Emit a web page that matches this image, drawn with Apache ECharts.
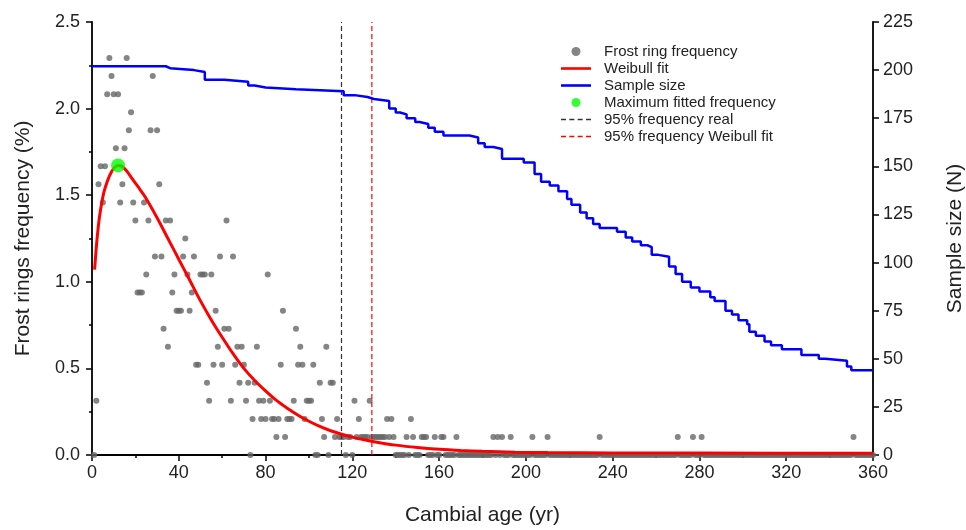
<!DOCTYPE html>
<html>
<head>
<meta charset="utf-8">
<script src="https://cdn.jsdelivr.net/npm/echarts@6/dist/echarts.min.js"></script>
<style>
html,body{margin:0;padding:0;background:#fff;overflow:hidden;}
#chart{width:966px;height:530px;}
</style>
</head>
<body>
<div id="chart"></div>
<script>
// ---- Data ----
const xTicks = [0, 40, 80, 120, 160, 200, 240, 280, 320, 360];
const leftTicks = [0.0, 0.5, 1.0, 1.5, 2.0, 2.5];
const rightTicks = [0, 25, 50, 75, 100, 125, 150, 175, 200, 225];

// Frost ring frequency (%) at cambial age (non-zero observations)
const frostPoints = [
  [8,2.292],[16,2.292],
  [9,2.188],[28,2.188],
  [7,2.083],[10,2.083],[12,2.083],
  [18,1.979],
  [17,1.875],[27,1.875],[30,1.875],
  [11,1.771],[15,1.771],
  [4,1.667],[6,1.667],
  [3,1.563],[14,1.563],[31,1.563],
  [5,1.458],[13,1.458],[19,1.458],[24,1.458],
  [20,1.354],[26,1.354],[34,1.354],[36,1.354],[62,1.354],
  [43,1.25],
  [29,1.146],[32,1.146],[42,1.146],[47,1.146],[59,1.146],[65,1.146],
  [25,1.042],[38,1.042],[44,1.042],[50,1.042],[51,1.042],[52,1.042],[55,1.042],[81,1.042],
  [21,0.938],[22,0.938],[23,0.938],[37,0.938],[46,0.938],
  [39,0.833],[40,0.833],[41,0.833],[45,0.833],[57,0.833],[88,0.833],
  [33,0.729],[61,0.729],[63,0.729],[94,0.729],
  [35,0.625],[58,0.625],[67,0.625],[69,0.625],[76,0.625],[96,0.625],[108,0.625],
  [48,0.521],[49,0.521],[56,0.521],[60,0.521],[66,0.521],[70,0.521],[87,0.521],[95,0.521],[97,0.521],[102,0.521],
  [53,0.417],[68,0.417],[72,0.417],[75,0.417],[105,0.417],[110,0.417],[111,0.417],
  [2,0.313],[54,0.313],[64,0.313],[71,0.313],[77,0.313],[79,0.313],[82,0.313],[93,0.313],[99,0.313],[100,0.313],[101,0.313],[121,0.313],[128,0.313],
  [74,0.208],[78,0.208],[80,0.208],[83,0.208],[84,0.208],[86,0.208],[90,0.208],[91,0.208],[92,0.208],[98,0.208],[106,0.208],[113,0.208],[123,0.208],[136,0.208],[138,0.208],[147,0.208],
  [85,0.104],[89,0.104],[107,0.104],[112,0.104],[114,0.104],[115,0.104],[116,0.104],[118,0.104],[119,0.104],[122,0.104],[124,0.104],[125,0.104],[126,0.104],[127,0.104],[129,0.104],[130,0.104],[131,0.104],[132,0.104],[133,0.104],[134,0.104],[135,0.104],[137,0.104],[139,0.104],[145,0.104],[148,0.104],[152,0.104],[153,0.104],[154,0.104],[158,0.104],[161,0.104],[162,0.104],[168,0.104],[185,0.104],[187,0.104],[189,0.104],[193,0.104],[203,0.104],[210,0.104],[234,0.104],[270,0.104],[277,0.104],[281,0.104],[351,0.104]
];
// Cambial ages with zero frost-ring frequency
const zeroAges = [1,73,103,104,109,117,120,140,141,142,143,144,146,149,150,151,155,156,157,159,160,163,164,165,166,167,169,170,171,172,173,174,175,176,177,178,179,180,181,182,183,184,186,188,190,191,192,194,195,196,197,198,199,200,201,202,204,205,206,207,208,209,211,212,213,214,215,216,217,218,219,220,221,222,223,224,225,226,227,228,229,230,231,232,233,235,236,237,238,239,240,241,242,243,244,245,246,247,248,249,250,251,252,253,254,255,256,257,258,259,260,261,262,263,264,265,266,267,268,269,271,272,273,274,275,276,278,279,280,282,283,284,285,286,287,288,289,290,291,292,293,294,295,296,297,298,299,300,301,302,303,304,305,306,307,308,309,310,311,312,313,314,315,316,317,318,319,320,321,322,323,324,325,326,327,328,329,330,331,332,333,334,335,336,337,338,339,340,341,342,343,344,345,346,347,348,349,350,352,353,354,355,356,357,358,359,360];

// Weibull fit curve
const weibullAges   = [1.2, 2, 3, 4, 5, 6, 8, 10, 12, 14, 16, 18, 20, 22, 25, 30, 35, 40, 45, 50, 55, 60, 65, 70, 75, 80, 85, 90, 95, 100, 105, 110, 115, 120, 125, 130, 140, 150, 160, 170, 180, 195, 210, 240, 280, 360];
const weibullValues = [1.07, 1.2, 1.33, 1.42, 1.49, 1.54, 1.61, 1.655, 1.672, 1.665, 1.64, 1.605, 1.57, 1.535, 1.48, 1.37, 1.25, 1.13, 1.01, 0.89, 0.78, 0.68, 0.585, 0.50, 0.43, 0.37, 0.315, 0.27, 0.23, 0.195, 0.165, 0.14, 0.12, 0.103, 0.089, 0.077, 0.057, 0.043, 0.033, 0.026, 0.021, 0.016, 0.014, 0.012, 0.011, 0.01];

// Sample size (N) step line: value holds from the given age onward
const sampleAges = [0, 34, 36, 47, 52, 61, 72, 75, 80, 94, 116, 121, 127, 130, 137, 140, 142, 145, 149, 151, 155, 158, 162, 174, 178, 181, 185, 189, 199, 204, 207, 211, 215, 219, 221, 225, 228, 231, 234, 242, 246, 249, 253, 256, 258, 261, 266, 269, 272, 276, 280, 285, 287, 292, 295, 298, 302, 303, 306, 310, 313, 318, 327, 335, 338, 348, 350, 360];
const sampleN    = [202, 201, 200, 199, 195, 194, 192, 191, 190, 189, 187, 186, 185, 184, 180, 178, 177, 175, 173, 172, 170, 168, 166, 165, 162, 160, 159, 154, 152, 146, 142, 140, 137, 133, 130, 126, 123, 120, 118, 116, 113, 111, 109, 108, 104, 103, 98, 94, 90, 87, 85, 82, 80, 75, 73, 70, 68, 64, 62, 59, 57, 55, 52, 50, 49, 46, 44, 44];

// Maximum fitted frequency
const maxFitted = [[12, 1.672]];
// 95% frequency lines (cambial age)
const p95Real = 115;
const p95Weibull = 129;

// ---- Build series data ----
const frostData = frostPoints.concat(zeroAges.map(a => [a, 0]));
const weibullData = weibullAges.map((a, i) => [a, weibullValues[i]]);
const sampleData = sampleAges.map((a, i) => [a, sampleN[i]]);

const FONT = "'Liberation Sans', Arial, sans-serif";
const SOLID_ICON = 'path://M0,0H30V2.6H0Z';
const DASH_ICON = 'path://M0,0h5v1.3h-5z M8.33,0h5v1.3h-5z M16.67,0h5v1.3h-5z M25,0h5v1.3h-5z';
const chart = echarts.init(document.getElementById('chart'), null, {renderer: 'canvas'});

const axisLine = {show: true, lineStyle: {color: '#000', width: 1.8}};

chart.setOption({
  animation: false,
  backgroundColor: '#fff',
  textStyle: {fontFamily: FONT},
  grid: {left: 92, right: 93, top: 22, bottom: 75, containLabel: false, outerBoundsMode: 'none'},
  legend: {
    orient: 'vertical',
    left: 556,
    top: 39,
    itemWidth: 30,
    itemHeight: 9,
    itemGap: 2,
    textStyle: {fontFamily: FONT, fontSize: 15, color: '#222', padding: [0, 0, 0, 8]},
    data: [
      {name: 'Frost ring frequency', icon: 'circle'},
      {name: 'Weibull fit', icon: SOLID_ICON},
      {name: 'Sample size', icon: SOLID_ICON},
      {name: 'Maximum fitted frequency', icon: 'circle'},
      {name: '95% frequency real', icon: DASH_ICON},
      {name: '95% frequency Weibull fit', icon: DASH_ICON}
    ]
  },
  xAxis: {
    type: 'value', min: xTicks[0], max: xTicks[xTicks.length - 1], interval: 40,
    name: 'Cambial age (yr)', nameLocation: 'middle', nameGap: 50,
    nameTextStyle: {fontSize: 21, color: '#222', fontFamily: FONT},
    axisLine: axisLine,
    axisTick: {show: true, inside: false, length: 6, lineStyle: {color: '#000', width: 1.5}},
    minorTick: {show: true, splitNumber: 2, length: 3, lineStyle: {color: '#000', width: 1.5}},
    axisLabel: {fontSize: 18, color: '#222', margin: 9, fontFamily: FONT},
    splitLine: {show: false}
  },
  yAxis: [
    {
      type: 'value', min: leftTicks[0], max: leftTicks[leftTicks.length - 1], interval: 0.5,
      name: 'Frost rings frequency (%)', nameLocation: 'middle', nameGap: 58, nameRotate: 90,
      nameTextStyle: {fontSize: 21, color: '#222', fontFamily: FONT},
      axisLine: axisLine,
      axisTick: {show: true, inside: false, length: 6, lineStyle: {color: '#000', width: 1.5}},
      minorTick: {show: true, splitNumber: 2, length: 3, lineStyle: {color: '#000', width: 1.5}},
      axisLabel: {fontSize: 18, color: '#222', margin: 12, fontFamily: FONT, formatter: v => v.toFixed(1)},
      splitLine: {show: false}
    },
    {
      type: 'value', min: rightTicks[0], max: rightTicks[rightTicks.length - 1], interval: 25,
      position: 'right',
      name: 'Sample size (N)', nameLocation: 'middle', nameGap: 72, nameRotate: 90,
      nameTextStyle: {fontSize: 21, color: '#222', fontFamily: FONT},
      axisLine: axisLine,
      axisTick: {show: true, inside: false, length: 6, lineStyle: {color: '#000', width: 1.5}},
      axisLabel: {fontSize: 18, color: '#222', margin: 10, fontFamily: FONT},
      splitLine: {show: false}
    }
  ],
  series: [
    {
      name: 'Frost ring frequency', type: 'scatter', yAxisIndex: 0,
      data: frostData, symbol: 'circle', symbolSize: 6,
      itemStyle: {color: '#666666'}, z: 2, clip: false
    },
    {
      name: '95% frequency real', type: 'line', yAxisIndex: 0,
      data: [[p95Real, leftTicks[0]], [p95Real, leftTicks[leftTicks.length - 1]]],
      symbol: 'none', itemStyle: {color: '#333333'},
      lineStyle: {color: '#333333', width: 1.2, type: [5, 3]}, z: 3
    },
    {
      name: '95% frequency Weibull fit', type: 'line', yAxisIndex: 0,
      data: [[p95Weibull, leftTicks[0]], [p95Weibull, leftTicks[leftTicks.length - 1]]],
      symbol: 'none', itemStyle: {color: '#ff0000'},
      lineStyle: {color: '#ff0000', width: 1.2, type: [5, 3]}, z: 3
    },
    {
      name: 'Weibull fit', type: 'line', yAxisIndex: 0,
      data: weibullData, symbol: 'none', smooth: 0.3,
      lineStyle: {color: '#ff0000', width: 3}, itemStyle: {color: '#ff0000'}, z: 4
    },
    {
      name: 'Sample size', type: 'line', yAxisIndex: 1,
      data: sampleData, symbol: 'none', step: 'end',
      lineStyle: {color: '#0000ff', width: 2.5}, itemStyle: {color: '#0000ff'}, z: 4
    },
    {
      name: 'Maximum fitted frequency', type: 'scatter', yAxisIndex: 0,
      data: maxFitted, symbol: 'circle', symbolSize: 14,
      itemStyle: {color: '#00ff00'}, z: 5
    }
  ]
});
</script>
</body>
</html>
